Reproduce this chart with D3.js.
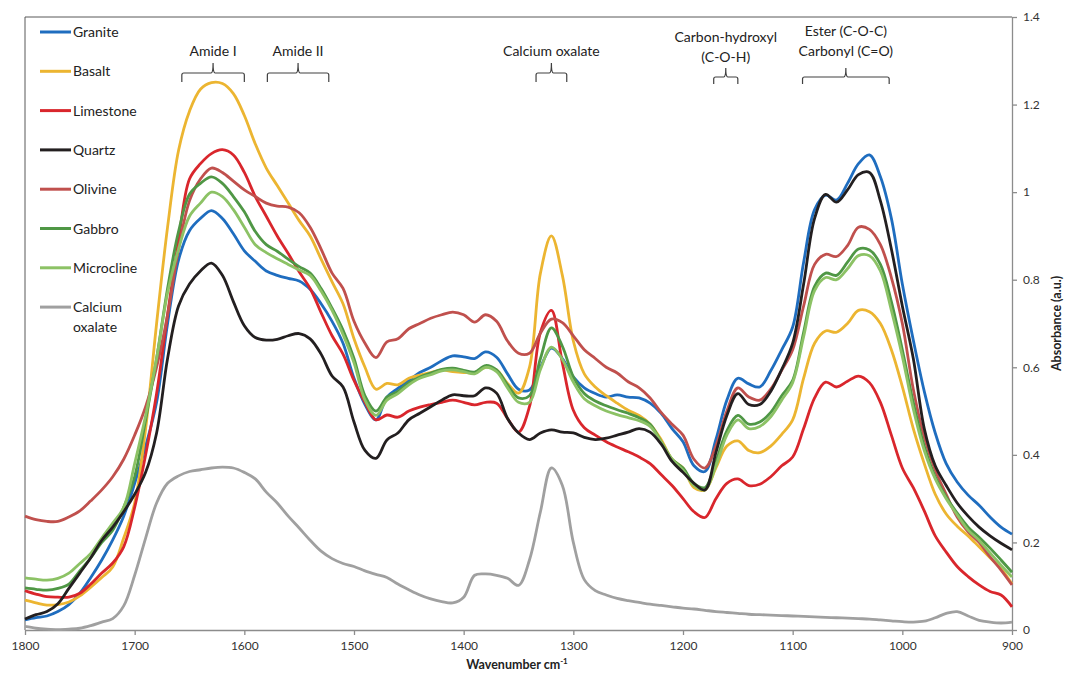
<!DOCTYPE html>
<html>
<head>
<meta charset="utf-8">
<script src="https://cdn.jsdelivr.net/npm/d3@7"></script>
<style>
	body { margin: 0; background: #fff; }
	text { font-family: Lato, "Open Sans", sans-serif; }
</style>
</head>
<body>
<div id="chart"></div>
<script>
// wavenumbers (cm-1), left to right
const wavenumbers = [
	1800,1790,1780,1770,1760,1750,1740,1730,1720,1710,
	1700,1690,1680,1670,1660,1650,1640,1630,1620,1610,
	1600,1590,1580,1570,1560,1550,1540,1530,1520,1510,
	1500,1490,1480,1470,1460,1450,1440,1430,1420,1410,
	1400,1390,1380,1370,1360,1350,1340,1330,1320,1310,
	1300,1290,1280,1270,1260,1250,1240,1230,1220,1210,
	1200,1190,1180,1170,1160,1150,1140,1130,1120,1110,
	1100,1090,1080,1070,1060,1050,1040,1030,1020,1010,
	1000,990,980,970,960,950,940,930,920,910,900
]

const granite = [
	0.023,0.028,0.032,0.042,0.058,0.084,0.12,0.16,0.206,0.26,
	0.335,0.42,0.52,0.70,0.845,0.912,0.94,0.958,0.94,0.905,
	0.866,0.842,0.82,0.81,0.803,0.797,0.778,0.745,0.705,0.655,
	0.575,0.515,0.48,0.532,0.552,0.57,0.588,0.60,0.615,0.626,
	0.624,0.62,0.635,0.623,0.585,0.55,0.548,0.60,0.644,0.62,
	0.578,0.553,0.54,0.532,0.537,0.532,0.53,0.518,0.495,0.46,
	0.43,0.375,0.362,0.435,0.525,0.575,0.562,0.555,0.592,0.64,
	0.692,0.84,0.96,0.993,0.982,1.02,1.065,1.085,1.035,0.94,
	0.79,0.662,0.545,0.45,0.38,0.338,0.308,0.285,0.258,0.235,0.219
]
const basalt = [
	0.068,0.062,0.057,0.058,0.064,0.078,0.098,0.12,0.144,0.21,
	0.29,0.46,0.70,0.92,1.095,1.185,1.235,1.25,1.248,1.225,
	1.175,1.11,1.055,1.015,0.975,0.935,0.90,0.847,0.795,0.745,
	0.665,0.60,0.55,0.563,0.56,0.575,0.582,0.588,0.594,0.59,
	0.588,0.588,0.60,0.594,0.563,0.541,0.60,0.815,0.90,0.81,
	0.66,0.585,0.555,0.535,0.518,0.502,0.49,0.47,0.435,0.39,
	0.37,0.325,0.32,0.37,0.42,0.432,0.41,0.405,0.42,0.447,
	0.48,0.575,0.655,0.683,0.68,0.70,0.73,0.727,0.70,0.64,
	0.556,0.46,0.38,0.31,0.265,0.237,0.215,0.19,0.165,0.14,0.105
]
const limestone = [
	0.09,0.082,0.076,0.075,0.075,0.084,0.105,0.13,0.153,0.19,
	0.28,0.40,0.54,0.72,0.89,1.03,1.065,1.088,1.097,1.085,
	1.045,0.99,0.945,0.90,0.86,0.818,0.78,0.725,0.672,0.63,
	0.57,0.52,0.48,0.491,0.486,0.50,0.509,0.515,0.52,0.525,
	0.52,0.514,0.52,0.518,0.483,0.452,0.51,0.68,0.73,0.61,
	0.502,0.462,0.445,0.43,0.418,0.407,0.395,0.38,0.355,0.33,
	0.30,0.27,0.257,0.30,0.335,0.345,0.33,0.333,0.35,0.375,
	0.395,0.46,0.53,0.566,0.555,0.568,0.58,0.565,0.52,0.445,
	0.37,0.325,0.272,0.215,0.178,0.145,0.122,0.103,0.088,0.08,0.053
]
const quartz = [
	0.025,0.035,0.042,0.06,0.095,0.13,0.165,0.205,0.235,0.27,
	0.31,0.36,0.45,0.62,0.74,0.79,0.82,0.838,0.81,0.75,
	0.695,0.668,0.662,0.664,0.672,0.677,0.665,0.63,0.58,0.555,
	0.475,0.41,0.392,0.434,0.45,0.48,0.495,0.51,0.525,0.537,
	0.535,0.535,0.553,0.541,0.483,0.45,0.435,0.45,0.457,0.452,
	0.45,0.44,0.435,0.438,0.445,0.452,0.46,0.452,0.425,0.385,
	0.36,0.335,0.32,0.405,0.49,0.54,0.515,0.515,0.545,0.595,
	0.655,0.79,0.94,0.995,0.977,1.005,1.04,1.045,0.98,0.87,
	0.74,0.62,0.46,0.375,0.33,0.29,0.26,0.235,0.215,0.198,0.183
]
const olivine = [
	0.26,0.252,0.248,0.248,0.258,0.272,0.295,0.32,0.35,0.39,
	0.445,0.51,0.60,0.72,0.87,0.98,1.03,1.055,1.045,1.025,
	1.005,0.99,0.975,0.968,0.966,0.953,0.92,0.87,0.815,0.78,
	0.705,0.655,0.622,0.658,0.665,0.688,0.70,0.712,0.72,0.726,
	0.72,0.703,0.72,0.705,0.66,0.632,0.632,0.678,0.71,0.702,
	0.672,0.64,0.62,0.60,0.587,0.567,0.553,0.53,0.497,0.47,
	0.445,0.39,0.37,0.42,0.50,0.553,0.532,0.525,0.55,0.593,
	0.64,0.74,0.835,0.858,0.853,0.878,0.92,0.915,0.88,0.805,
	0.70,0.55,0.44,0.365,0.31,0.258,0.224,0.20,0.167,0.137,0.103
]
const gabbro = [
	0.096,0.093,0.091,0.095,0.105,0.135,0.165,0.20,0.228,0.28,
	0.35,0.48,0.62,0.78,0.91,0.995,1.02,1.035,1.02,0.99,
	0.955,0.91,0.88,0.865,0.847,0.83,0.815,0.78,0.735,0.685,
	0.62,0.535,0.50,0.532,0.545,0.565,0.578,0.587,0.595,0.598,
	0.593,0.589,0.604,0.594,0.56,0.53,0.535,0.62,0.69,0.648,
	0.578,0.54,0.523,0.512,0.503,0.495,0.485,0.47,0.43,0.39,
	0.37,0.335,0.325,0.385,0.455,0.49,0.47,0.475,0.497,0.535,
	0.57,0.68,0.785,0.815,0.81,0.84,0.87,0.868,0.835,0.75,
	0.64,0.52,0.42,0.35,0.304,0.267,0.235,0.212,0.187,0.16,0.132
]
const microcline = [
	0.119,0.116,0.114,0.118,0.13,0.152,0.175,0.21,0.244,0.28,
	0.38,0.49,0.62,0.77,0.87,0.945,0.975,1.0,0.99,0.96,
	0.92,0.88,0.862,0.848,0.835,0.822,0.81,0.774,0.73,0.675,
	0.61,0.525,0.49,0.525,0.54,0.56,0.575,0.583,0.592,0.594,
	0.59,0.585,0.60,0.59,0.553,0.52,0.52,0.595,0.646,0.618,
	0.566,0.528,0.512,0.50,0.492,0.485,0.478,0.465,0.43,0.39,
	0.365,0.33,0.32,0.375,0.445,0.48,0.46,0.465,0.487,0.525,
	0.565,0.67,0.775,0.805,0.80,0.825,0.855,0.855,0.82,0.73,
	0.625,0.505,0.41,0.345,0.30,0.263,0.228,0.205,0.176,0.148,0.121
]
const calciumOxalate = [
	0.008,0.004,0.002,0.001,0.002,0.004,0.01,0.018,0.026,0.055,
	0.125,0.21,0.29,0.335,0.352,0.362,0.366,0.37,0.372,0.37,
	0.36,0.345,0.315,0.29,0.26,0.233,0.205,0.18,0.163,0.152,
	0.145,0.135,0.127,0.12,0.105,0.092,0.08,0.071,0.065,0.062,
	0.075,0.125,0.128,0.125,0.118,0.102,0.16,0.27,0.37,0.33,
	0.2,0.115,0.09,0.08,0.072,0.067,0.063,0.059,0.056,0.053,
	0.05,0.048,0.045,0.042,0.04,0.038,0.036,0.035,0.034,0.033,
	0.032,0.031,0.03,0.029,0.028,0.027,0.026,0.025,0.023,0.021,
	0.019,0.018,0.02,0.028,0.038,0.042,0.032,0.022,0.018,0.016,0.018
]

// legend order / draw order
const seriesNames  = ['Granite', 'Basalt', 'Limestone', 'Quartz', 'Olivine', 'Gabbro', 'Microcline', 'Calcium oxalate']
const seriesValues = [granite, basalt, limestone, quartz, olivine, gabbro, microcline, calciumOxalate]
const seriesColors = ['#1f6dbf', '#ecb531', '#d9262c', '#231f20', '#c0504d', '#4f9745', '#8cc265', '#a0a0a0']
const drawOrder = [7, 0, 1, 2, 4, 5, 6, 3]

const xTicks = [1800, 1700, 1600, 1500, 1400, 1300, 1200, 1100, 1000, 900]
const xTickLabels = ['1800', '1700', '1600', '1500', '1400', '1300', '1200', '1100', '1000', '900']
const yTicks = [0, 0.2, 0.4, 0.6, 0.8, 1, 1.2, 1.4]
const yTickLabels = ['0', '0.2', '0.4', '0.6', '0.8', '1', '1.2', '1.4']

// band annotations: label lines, wavenumber span of the bracket
const bandLabels = [['Amide I'], ['Amide II'], ['Calcium oxalate'], ['Carbon-hydroxyl', '(C-O-H)'], ['Ester (C-O-C)', 'Carbonyl (C=O)']]
const bandSpans = [[1657, 1600], [1579, 1523], [1334, 1306], [1172, 1150], [1091, 1012]]

const width = 1067
const height = 679
const margin = { top: 17, right: 55, bottom: 49, left: 25 }

const svg = d3.select('#chart')
	.append('svg')
		.attr('width', width)
		.attr('height', height)

const x = d3.scaleLinear()
	.domain([1800, 900])
	.range([margin.left, width - margin.right])
const y = d3.scaleLinear()
	.domain([0, 1.4])
	.range([height - margin.bottom, margin.top])

// plot area frame (top + left)
svg.append('path')
	.attr('d', `M${x(1800)},${y(0)}V${y(1.4)}H${x(900)}`)
	.attr('fill', 'none')
	.attr('stroke', '#595959')
	.attr('stroke-width', 1)

// axes
const xAxis = svg.append('g')
	.attr('transform', `translate(0,${y(0)})`)
	.call(d3.axisBottom(x).tickValues(xTicks).tickSize(5).tickSizeOuter(0).tickPadding(6)
		.tickFormat((d, i) => xTickLabels[i]))
const yAxis = svg.append('g')
	.attr('transform', `translate(${x(900)},0)`)
	.call(d3.axisRight(y).tickValues(yTicks).tickSize(5).tickSizeOuter(0).tickPadding(6)
		.tickFormat((d, i) => yTickLabels[i]))

for (const g of [xAxis, yAxis]) {
	g.select('.domain').attr('stroke', '#8c8c8c').attr('stroke-width', 1.3)
	g.selectAll('.tick line').attr('stroke', '#8c8c8c').attr('stroke-width', 1.3)
	g.selectAll('.tick text')
		.attr('fill', '#333')
		.style('font-size', '12px')
}

// axis titles
const xTitle = svg.append('text')
	.attr('x', 517)
	.attr('y', 669)
	.attr('text-anchor', 'middle')
	.style('font-size', '12.5px')
	.style('font-weight', 'bold')
	.attr('fill', '#222')
xTitle.append('tspan').text('Wavenumber cm')
xTitle.append('tspan').text('-1').attr('dy', -5).style('font-size', '8px')

svg.append('text')
	.attr('transform', `translate(1061,${(y(0) + y(1.4)) / 2}) rotate(-90)`)
	.attr('text-anchor', 'middle')
	.style('font-size', '12.5px')
	.style('font-weight', 'bold')
	.attr('fill', '#222')
	.text('Absorbance (a.u.)')

// spectra
const line = d3.line()
	.x((d, i) => x(wavenumbers[i]))
	.y(d => y(d))
	.curve(d3.curveCatmullRom.alpha(0.5))

svg.append('g')
	.selectAll('path')
	.data(drawOrder)
	.join('path')
		.attr('d', k => line(seriesValues[k]))
		.attr('fill', 'none')
		.attr('stroke', k => seriesColors[k])
		.attr('stroke-width', 2.8)
		.attr('stroke-linejoin', 'round')

// legend
const legend = svg.append('g')
	.selectAll('g')
	.data(seriesNames)
	.join('g')
		.attr('transform', (d, i) => `translate(40,${32 + i * 39.3})`)
legend.append('line')
	.attr('x1', 0).attr('x2', 31)
	.attr('stroke', (d, i) => seriesColors[i])
	.attr('stroke-width', 3)
legend.append('text')
	.attr('x', 33)
	.attr('fill', '#222')
	.style('font-size', '14px')
	.each(function (d) {
		const parts = d === 'Calcium oxalate' ? ['Calcium', 'oxalate'] : [d]
		d3.select(this).selectAll('tspan')
			.data(parts)
			.join('tspan')
				.attr('x', 33)
				.attr('dy', (p, j) => j === 0 ? 5 : 20)
				.text(p => p)
	})

// band annotations with braces
const bands = svg.append('g')
	.selectAll('g')
	.data(bandLabels)
	.join('g')
bands.each(function (lines, i) {
	const g = d3.select(this)
	const [w1, w2] = bandSpans[i]
	const x1 = x(w1), x2 = x(w2), xm = (x1 + x2) / 2
	const twoLine = lines.length > 1
	const hy = twoLine ? 77 : 73
	const top = twoLine ? hy - 9 : hy - 10
	const bottom = twoLine ? hy + 7 : hy + 9
	g.append('path')
		.attr('d', `M${x1},${bottom}V${hy + 2}Q${x1},${hy} ${x1 + 2},${hy}H${xm - 2}Q${xm},${hy} ${xm},${top}`
			+ `Q${xm},${hy} ${xm + 2},${hy}H${x2 - 2}Q${x2},${hy} ${x2},${hy + 2}V${bottom}`)
		.attr('fill', 'none')
		.attr('stroke', '#404040')
		.attr('stroke-width', 1.2)
	const firstBase = lines[0] === 'Carbon-hydroxyl' ? 42 : (twoLine ? 36 : 56)
	g.append('text')
		.attr('text-anchor', 'middle')
		.attr('fill', '#222')
		.style('font-size', '14px')
		.selectAll('tspan')
		.data(lines)
		.join('tspan')
			.attr('x', xm)
			.attr('y', (l, j) => firstBase + j * 20)
			.text(l => l)
})
</script>
</body>
</html>
